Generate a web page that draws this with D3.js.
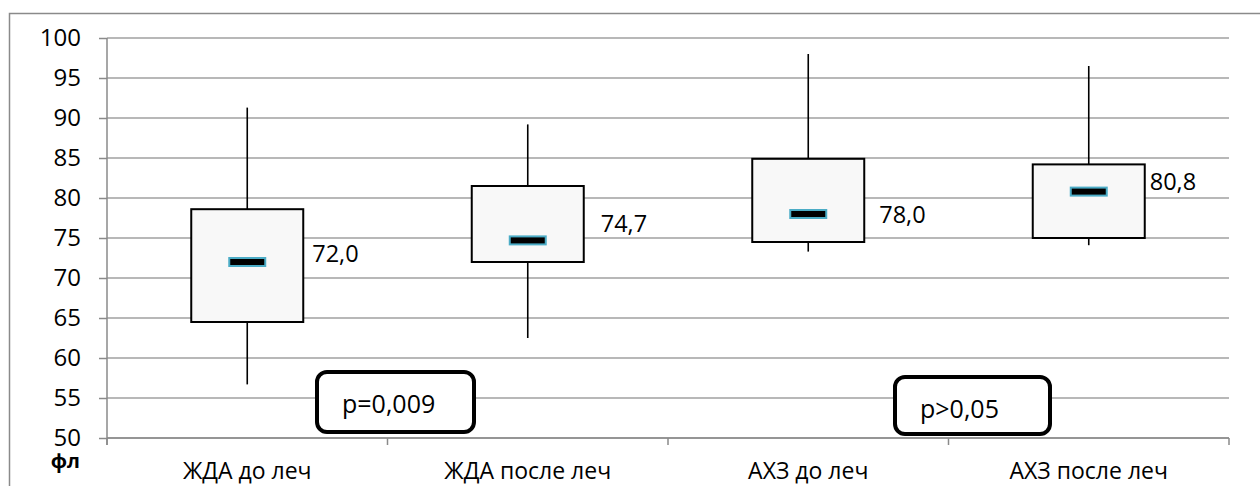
<!DOCTYPE html>
<html>
<head>
<meta charset="utf-8">
<script src="https://cdn.jsdelivr.net/npm/d3@7/dist/d3.min.js"></script>
<style>
  html, body { margin: 0; padding: 0; background: #ffffff; }
  svg { display: block; font-family: "Open Sans", "DejaVu Sans", sans-serif; }
</style>
</head>
<body>
<svg id="chart" width="1260" height="486"></svg>
<script>
// Categories and box-plot statistics (фл)
const categories = ["ЖДА до леч", "ЖДА после леч", "АХЗ до леч", "АХЗ после леч"];
const whiskerHigh = [91.3, 89.2, 98.0, 96.5];
const boxHigh     = [78.6, 81.5, 84.9, 84.2];
const medians     = [72.0, 74.7, 78.0, 80.8];
const boxLow      = [64.5, 72.0, 74.5, 75.0];
const whiskerLow  = [56.7, 62.5, 73.3, 74.1];
const medianLabels = ["72,0", "74,7", "78,0", "80,8"];
const yTicks = [50, 55, 60, 65, 70, 75, 80, 85, 90, 95, 100];
const pNotes = ["p=0,009", "p>0,05"];

// Layout
const W = 1260, H = 486;
const plot = { left: 107, right: 1229, top: 38, bottom: 438 };
const boxWidth = 112;
const markW = 36, markH = 8;
// Median label placement (offset from box edge, baseline shift from median)
const labelDx = [9, 17, 15, 5];
const labelDy = [0, -8, 9, -2];

const svg = d3.select("#chart");

const x = d3.scaleBand().domain(categories).range([plot.left, plot.right]).padding(0);
const y = d3.scaleLinear().domain([50, 100]).range([plot.bottom, plot.top]);

// Outer chart frame
svg.append("rect")
  .attr("x", 9.5).attr("y", 13.5)
  .attr("width", W + 20).attr("height", H + 20)
  .attr("fill", "none").attr("stroke", "#8a8a8a").attr("stroke-width", 1.5);

// Horizontal gridlines
svg.append("g").selectAll("line").data(yTicks).join("line")
  .attr("x1", plot.left).attr("x2", plot.right)
  .attr("y1", d => y(d)).attr("y2", d => y(d))
  .attr("stroke", "#a0a0a0").attr("stroke-width", 1.6);

// Y axis
const yAxis = d3.axisLeft(y).tickValues(yTicks).tickSize(8).tickPadding(18)
  .tickFormat(d3.format("d"));
const gy = svg.append("g").attr("transform", `translate(${plot.left},0)`).call(yAxis);
gy.select(".domain").attr("stroke", "#8a8a8a").attr("stroke-width", 1.5)
  .attr("d", `M0,${plot.top}V${plot.bottom + 7}`);
gy.selectAll(".tick line").attr("stroke", "#8a8a8a").attr("stroke-width", 1.5);
gy.selectAll(".tick text").attr("fill", "#000").attr("font-size", 24)
  .attr("font-family", "'Open Sans', sans-serif");

// X axis: ticks at category boundaries
const boundaries = categories.map(c => x(c)).concat([plot.right]);
const gx = svg.append("g");
gx.append("line")
  .attr("x1", plot.left).attr("x2", plot.right)
  .attr("y1", plot.bottom).attr("y2", plot.bottom)
  .attr("stroke", "#8a8a8a").attr("stroke-width", 1.5);
gx.selectAll("line.tk").data(boundaries).join("line").attr("class", "tk")
  .attr("x1", d => d).attr("x2", d => d)
  .attr("y1", plot.bottom).attr("y2", plot.bottom + 7)
  .attr("stroke", "#8a8a8a").attr("stroke-width", 1.5);
gx.selectAll("text").data(categories).join("text")
  .attr("x", d => x(d) + x.bandwidth() / 2)
  .attr("y", 479)
  .attr("text-anchor", "middle")
  .attr("font-size", 23)
  .attr("fill", "#000")
  .text(d => d);

// Unit label
svg.append("text")
  .attr("x", 80).attr("y", 468)
  .attr("text-anchor", "end")
  .attr("font-size", 20).attr("font-weight", "bold")
  .text("фл");

// Box plots
const cx = i => x(categories[i]) + x.bandwidth() / 2;
const idx = d3.range(categories.length);
const boxes = svg.append("g");

// Whiskers
boxes.selectAll("line.wh").data(idx).join("line").attr("class", "wh")
  .attr("x1", cx).attr("x2", cx)
  .attr("y1", i => y(whiskerHigh[i])).attr("y2", i => y(boxHigh[i]))
  .attr("stroke", "#000").attr("stroke-width", 1.6);
boxes.selectAll("line.wl").data(idx).join("line").attr("class", "wl")
  .attr("x1", cx).attr("x2", cx)
  .attr("y1", i => y(boxLow[i])).attr("y2", i => y(whiskerLow[i]))
  .attr("stroke", "#000").attr("stroke-width", 1.6);

// Boxes
boxes.selectAll("rect.box").data(idx).join("rect").attr("class", "box")
  .attr("x", i => cx(i) - boxWidth / 2)
  .attr("width", boxWidth)
  .attr("y", i => y(boxHigh[i]))
  .attr("height", i => y(boxLow[i]) - y(boxHigh[i]))
  .attr("fill", "#f8f8f8").attr("stroke", "#000").attr("stroke-width", 2);

// Median markers
boxes.selectAll("rect.med").data(idx).join("rect").attr("class", "med")
  .attr("x", i => cx(i) - markW / 2)
  .attr("y", i => y(medians[i]) - markH / 2)
  .attr("width", markW).attr("height", markH)
  .attr("fill", "#000").attr("stroke", "#4bacc6").attr("stroke-width", 2);

// Median value labels
boxes.selectAll("text.lab").data(idx).join("text").attr("class", "lab")
  .attr("x", i => cx(i) + boxWidth / 2 + labelDx[i])
  .attr("y", i => y(medians[i]) + labelDy[i])
  .attr("font-size", 23.5).attr("fill", "#000")
  .text(i => medianLabels[i]);

// Significance notes in rounded frames
const notes = [
  { x: 317, y: 372, w: 157, h: 60, tx: 342, ty: 413 },
  { x: 895, y: 377, w: 155, h: 57, tx: 920, ty: 418 }
];
const ng = svg.append("g").selectAll("g").data(notes).join("g");
ng.append("rect")
  .attr("x", d => d.x).attr("y", d => d.y)
  .attr("width", d => d.w).attr("height", d => d.h)
  .attr("rx", 10).attr("ry", 10)
  .attr("fill", "#fff").attr("stroke", "#000").attr("stroke-width", 4);
ng.append("text")
  .attr("x", d => d.tx).attr("y", d => d.ty)
  .attr("font-size", 25).attr("fill", "#000")
  .text((d, i) => pNotes[i]);
</script>
</body>
</html>
